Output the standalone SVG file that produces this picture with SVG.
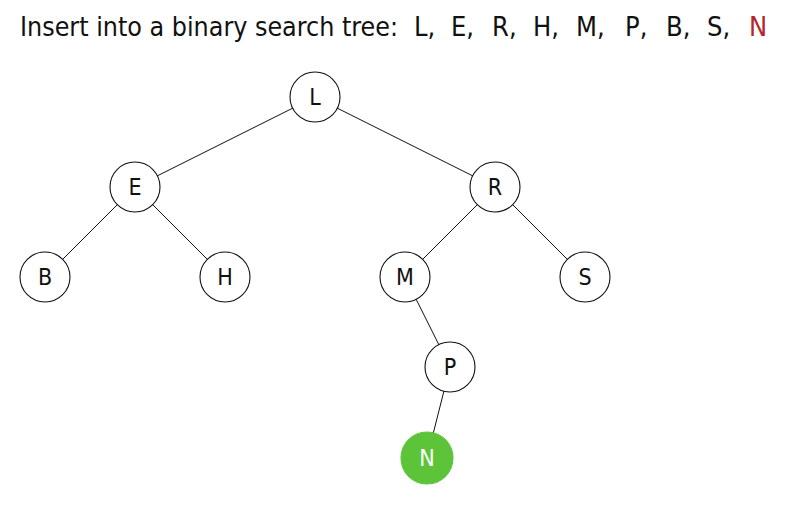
<svg xmlns="http://www.w3.org/2000/svg" width="789" height="507" viewBox="0 0 789 507">
<style>
.t{font-family:"DejaVu Sans Condensed","Liberation Sans",sans-serif;font-size:27px;fill:#111}
.n circle{fill:#fff;stroke:#111;stroke-width:1.1}
.n text{font-family:"DejaVu Sans Condensed","Liberation Sans",sans-serif;font-size:23px;fill:#111;text-anchor:middle}
#edges line{stroke:#111;stroke-width:1}
</style>
<rect width="789" height="507" fill="#fff"/>
<g id="title">
<text class="t" y="36"><tspan x="20" textLength="378" lengthAdjust="spacingAndGlyphs">Insert into a binary search tree:</tspan><tspan x="414">L,</tspan><tspan x="451">E,</tspan><tspan x="492">R,</tspan><tspan x="533">H,</tspan><tspan x="576">M,</tspan><tspan x="625">P,</tspan><tspan x="666">B,</tspan><tspan x="707">S,</tspan><tspan x="749" style="fill:#b3262a">N</tspan></text>
</g>
<g id="edges">
<line x1="315" y1="97" x2="135" y2="187"/>
<line x1="315" y1="97" x2="495" y2="187"/>
<line x1="135" y1="187" x2="45" y2="277"/>
<line x1="135" y1="187" x2="225" y2="277"/>
<line x1="495" y1="187" x2="405" y2="277"/>
<line x1="495" y1="187" x2="585" y2="277"/>
<line x1="405" y1="277" x2="450" y2="367"/>
<line x1="450" y1="367" x2="427" y2="458"/>
</g>
<g id="L" class="n"><circle cx="315" cy="97" r="25"/><text x="315" y="105">L</text></g>
<g id="E" class="n"><circle cx="135" cy="187" r="25"/><text x="135" y="195">E</text></g>
<g id="R" class="n"><circle cx="495" cy="187" r="25"/><text x="495" y="195">R</text></g>
<g id="B" class="n"><circle cx="45" cy="277" r="25"/><text x="45" y="285">B</text></g>
<g id="H" class="n"><circle cx="225" cy="277" r="25"/><text x="225" y="285">H</text></g>
<g id="M" class="n"><circle cx="405" cy="277" r="25"/><text x="405" y="285">M</text></g>
<g id="S" class="n"><circle cx="585" cy="277" r="25"/><text x="585" y="285">S</text></g>
<g id="P" class="n"><circle cx="450" cy="367" r="25"/><text x="450" y="375">P</text></g>
<g id="N" class="n"><circle cx="427" cy="458" r="26" style="fill:#5dc43a;stroke:#5dc43a"/><text x="427" y="466" style="fill:#fff">N</text></g>
</svg>
